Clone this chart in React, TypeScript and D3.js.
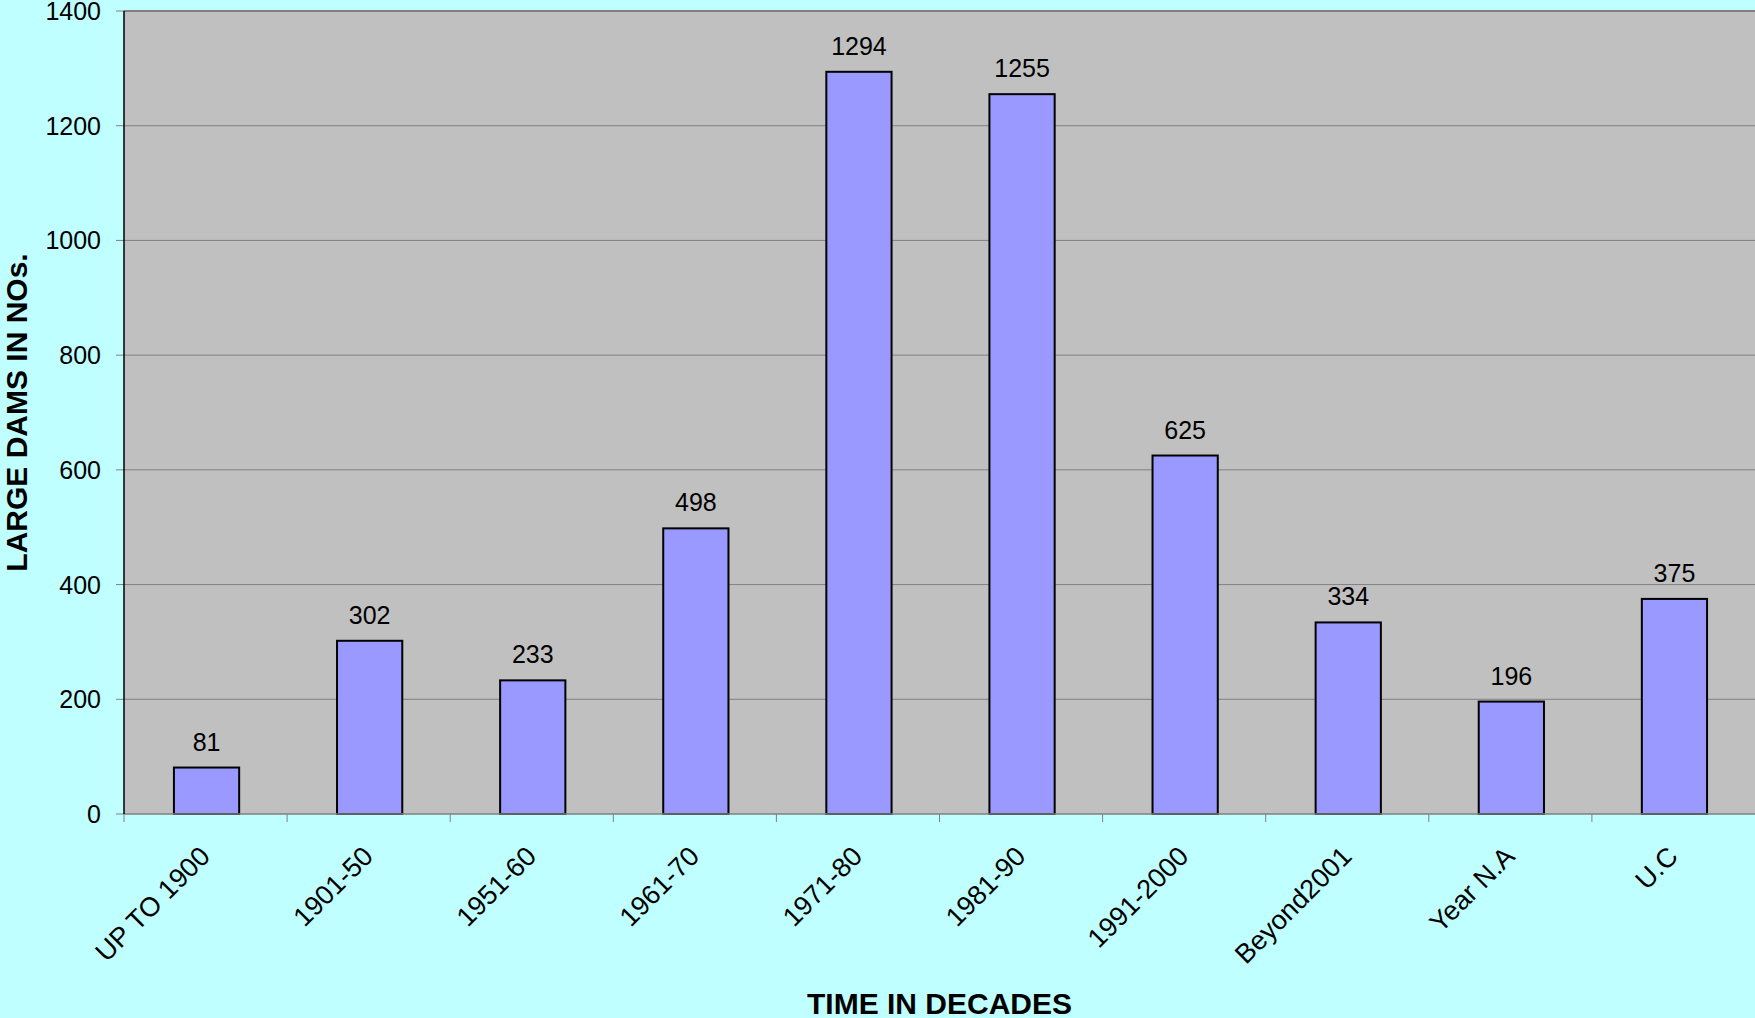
import * as d3 from "d3";

// Large dams completed per period
const categories = [
  "UP TO 1900",
  "1901-50",
  "1951-60",
  "1961-70",
  "1971-80",
  "1981-90",
  "1991-2000",
  "Beyond2001",
  "Year N.A",
  "U.C",
];
const dams = [81, 302, 233, 498, 1294, 1255, 625, 334, 196, 375];
const yTicks = [0, 200, 400, 600, 800, 1000, 1200, 1400];

const W = 1755;
const H = 1018;
const M = { left: 124, right: 0, top: 11, bottom: 204 };
const FONT = "'Liberation Sans', Arial, sans-serif";

export default function App() {
  const x = d3
    .scaleBand<string>()
    .domain(categories)
    .range([M.left, W - M.right])
    .paddingInner(0.6)
    .paddingOuter(0.3);
  const y = d3.scaleLinear().domain([0, 1400]).range([H - M.bottom, M.top]);
  const step = x.step();
  const x0 = y(0);

  return (
    <svg
      width={W}
      height={H}
      viewBox={`0 0 ${W} ${H}`}
      style={{ position: "absolute", left: 0, top: 0, display: "block" }}
      fontFamily={FONT}
    >
      <rect x={0} y={0} width={W} height={H} fill="#C0FFFF" />
      <rect x={M.left} y={M.top} width={W - M.right - M.left} height={x0 - M.top} fill="#C0C0C0" />

      {/* gridlines + y ticks */}
      {yTicks.map((t) => (
        <g key={t}>
          {t > 0 && (
            <line x1={M.left} x2={W - M.right} y1={y(t)} y2={y(t)} stroke="#808080" strokeWidth={t === 1400 ? 2 : 1} />
          )}
          <line x1={M.left - 8} x2={M.left} y1={y(t)} y2={y(t)} stroke="#808080" strokeWidth={1} />
          <text x={M.left - 23} y={y(t)} dy="0.36em" textAnchor="end" fontSize={25} fill="#000">
            {t}
          </text>
        </g>
      ))}

      {/* bars */}
      {categories.map((c, i) => (
        <g key={c}>
          <rect
            x={x(c)! + 1}
            y={y(dams[i])}
            width={x.bandwidth()}
            height={x0 - y(dams[i])}
            fill="#9999FF"
            stroke="#000"
            strokeWidth={2}
          />
          <text x={x(c)! + 1 + x.bandwidth() / 2} y={y(dams[i]) - 17} textAnchor="middle" fontSize={25} fill="#000">
            {dams[i]}
          </text>
        </g>
      ))}

      {/* x axis */}
      <line x1={M.left} x2={W - M.right} y1={x0} y2={x0} stroke="#808080" strokeWidth={1.5} />
      {categories.map((c, i) => (
        <line
          key={"t" + c}
          x1={M.left + i * step}
          x2={M.left + i * step}
          y1={x0}
          y2={x0 + 8}
          stroke="#808080"
          strokeWidth={1}
        />
      ))}
      {categories.map((c) => {
        const cx = x(c)! + x.bandwidth() / 2;
        return (
          <text
            key={"l" + c}
            transform={`translate(${cx + 6},${x0 + 44}) rotate(-45)`}
            textAnchor="end"
            fontSize={27}
            fill="#000"
          >
            {c}
          </text>
        );
      })}
      <line x1={M.left} x2={M.left} y1={M.top} y2={x0} stroke="#000" strokeWidth={1.5} />

      {/* axis titles */}
      <text
        transform={`translate(27,${(M.top + x0) / 2}) rotate(-90)`}
        textAnchor="middle"
        fontSize={30}
        fontWeight="bold"
        fill="#000"
      >
        LARGE DAMS IN NOs.
      </text>
      <text x={(M.left + W) / 2} y={1014} textAnchor="middle" fontSize={30} fontWeight="bold" fill="#000">
        TIME IN DECADES
      </text>
    </svg>
  );
}
